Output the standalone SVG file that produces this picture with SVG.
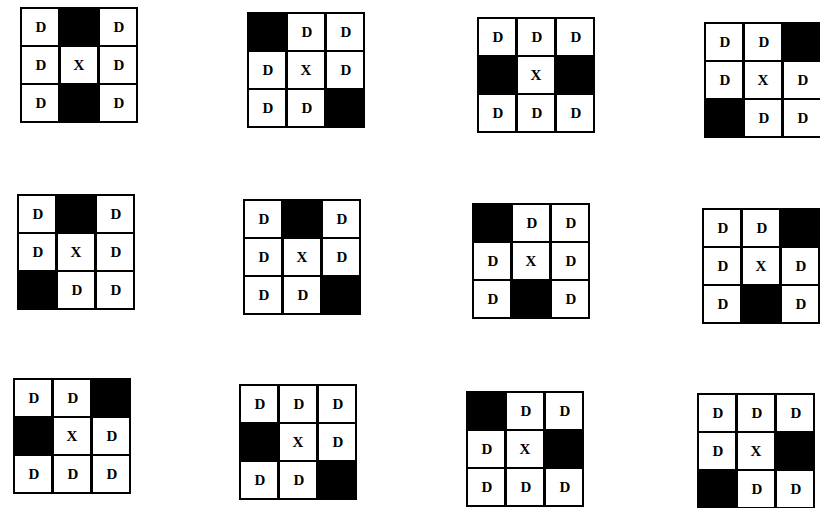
<svg xmlns="http://www.w3.org/2000/svg" width="820" height="508" viewBox="0 0 820 508">
<defs>
<style>
.bg{fill:#000}
.c{fill:#fff}
.t{font-family:"Liberation Serif","DejaVu Serif",serif;font-weight:bold;font-size:15px;text-anchor:middle;fill:#000}
</style>
<rect id="c00" class="c" x="2" y="2" width="36" height="36"/>
<rect id="c01" class="c" x="41" y="2" width="36" height="36"/>
<rect id="c02" class="c" x="80" y="2" width="36" height="36"/>
<rect id="c10" class="c" x="2" y="40" width="36" height="36"/>
<rect id="c11" class="c" x="41" y="40" width="36" height="36"/>
<rect id="c12" class="c" x="80" y="40" width="36" height="36"/>
<rect id="c20" class="c" x="2" y="78" width="36" height="36"/>
<rect id="c21" class="c" x="41" y="78" width="36" height="36"/>
<rect id="c22" class="c" x="80" y="78" width="36" height="36"/>
</defs>
<rect width="820" height="508" fill="#fff"/>

<g id="grid1" transform="translate(20,7)">
<rect class="bg" width="118" height="116"/>
<use href="#c00"/><use href="#c02"/><use href="#c10"/><use href="#c11"/><use href="#c12"/><use href="#c20"/><use href="#c22"/>
<text class="t" x="21" y="25">D</text><text class="t" x="99" y="25">D</text>
<text class="t" x="21" y="63">D</text><text class="t" x="59" y="63">X</text><text class="t" x="99" y="63">D</text>
<text class="t" x="21" y="101">D</text><text class="t" x="99" y="101">D</text>
</g>

<g id="grid2" transform="translate(247,12)">
<rect class="bg" width="118" height="116"/>
<use href="#c01"/><use href="#c02"/><use href="#c10"/><use href="#c11"/><use href="#c12"/><use href="#c20"/><use href="#c21"/>
<text class="t" x="60" y="25">D</text><text class="t" x="99" y="25">D</text>
<text class="t" x="21" y="63">D</text><text class="t" x="59" y="63">X</text><text class="t" x="99" y="63">D</text>
<text class="t" x="21" y="101">D</text><text class="t" x="60" y="101">D</text>
</g>

<g id="grid3" transform="translate(477,17)">
<rect class="bg" width="118" height="116"/>
<use href="#c00"/><use href="#c01"/><use href="#c02"/><use href="#c11"/><use href="#c20"/><use href="#c21"/><use href="#c22"/>
<text class="t" x="21" y="25">D</text><text class="t" x="60" y="25">D</text><text class="t" x="99" y="25">D</text>
<text class="t" x="59" y="63">X</text>
<text class="t" x="21" y="101">D</text><text class="t" x="60" y="101">D</text><text class="t" x="99" y="101">D</text>
</g>

<g id="grid4" transform="translate(704,22)">
<rect class="bg" width="118" height="116"/>
<use href="#c00"/><use href="#c01"/><use href="#c10"/><use href="#c11"/><use href="#c12"/><use href="#c21"/><use href="#c22"/>
<text class="t" x="21" y="25">D</text><text class="t" x="60" y="25">D</text>
<text class="t" x="21" y="63">D</text><text class="t" x="59" y="63">X</text><text class="t" x="99" y="63">D</text>
<text class="t" x="60" y="101">D</text><text class="t" x="99" y="101">D</text>
</g>

<g id="grid5" transform="translate(17,194)">
<rect class="bg" width="118" height="116"/>
<use href="#c00"/><use href="#c02"/><use href="#c10"/><use href="#c11"/><use href="#c12"/><use href="#c21"/><use href="#c22"/>
<text class="t" x="21" y="25">D</text><text class="t" x="99" y="25">D</text>
<text class="t" x="21" y="63">D</text><text class="t" x="59" y="63">X</text><text class="t" x="99" y="63">D</text>
<text class="t" x="60" y="101">D</text><text class="t" x="99" y="101">D</text>
</g>

<g id="grid6" transform="translate(243,199)">
<rect class="bg" width="118" height="116"/>
<use href="#c00"/><use href="#c02"/><use href="#c10"/><use href="#c11"/><use href="#c12"/><use href="#c20"/><use href="#c21"/>
<text class="t" x="21" y="25">D</text><text class="t" x="99" y="25">D</text>
<text class="t" x="21" y="63">D</text><text class="t" x="59" y="63">X</text><text class="t" x="99" y="63">D</text>
<text class="t" x="21" y="101">D</text><text class="t" x="60" y="101">D</text>
</g>

<g id="grid7" transform="translate(472,203)">
<rect class="bg" width="118" height="116"/>
<use href="#c01"/><use href="#c02"/><use href="#c10"/><use href="#c11"/><use href="#c12"/><use href="#c20"/><use href="#c22"/>
<text class="t" x="60" y="25">D</text><text class="t" x="99" y="25">D</text>
<text class="t" x="21" y="63">D</text><text class="t" x="59" y="63">X</text><text class="t" x="99" y="63">D</text>
<text class="t" x="21" y="101">D</text><text class="t" x="99" y="101">D</text>
</g>

<g id="grid8" transform="translate(702,208)">
<rect class="bg" width="118" height="116"/>
<use href="#c00"/><use href="#c01"/><use href="#c10"/><use href="#c11"/><use href="#c12"/><use href="#c20"/><use href="#c22"/>
<text class="t" x="21" y="25">D</text><text class="t" x="60" y="25">D</text>
<text class="t" x="21" y="63">D</text><text class="t" x="59" y="63">X</text><text class="t" x="99" y="63">D</text>
<text class="t" x="21" y="101">D</text><text class="t" x="99" y="101">D</text>
</g>

<g id="grid9" transform="translate(13,378)">
<rect class="bg" width="118" height="116"/>
<use href="#c00"/><use href="#c01"/><use href="#c11"/><use href="#c12"/><use href="#c20"/><use href="#c21"/><use href="#c22"/>
<text class="t" x="21" y="25">D</text><text class="t" x="60" y="25">D</text>
<text class="t" x="59" y="63">X</text><text class="t" x="99" y="63">D</text>
<text class="t" x="21" y="101">D</text><text class="t" x="60" y="101">D</text><text class="t" x="99" y="101">D</text>
</g>

<g id="grid10" transform="translate(239,384)">
<rect class="bg" width="118" height="116"/>
<use href="#c00"/><use href="#c01"/><use href="#c02"/><use href="#c11"/><use href="#c12"/><use href="#c20"/><use href="#c21"/>
<text class="t" x="21" y="25">D</text><text class="t" x="60" y="25">D</text><text class="t" x="99" y="25">D</text>
<text class="t" x="59" y="63">X</text><text class="t" x="99" y="63">D</text>
<text class="t" x="21" y="101">D</text><text class="t" x="60" y="101">D</text>
</g>

<g id="grid11" transform="translate(466,391)">
<rect class="bg" width="118" height="116"/>
<use href="#c01"/><use href="#c02"/><use href="#c10"/><use href="#c11"/><use href="#c20"/><use href="#c21"/><use href="#c22"/>
<text class="t" x="60" y="25">D</text><text class="t" x="99" y="25">D</text>
<text class="t" x="21" y="63">D</text><text class="t" x="59" y="63">X</text>
<text class="t" x="21" y="101">D</text><text class="t" x="60" y="101">D</text><text class="t" x="99" y="101">D</text>
</g>

<g id="grid12" transform="translate(697,393)">
<rect class="bg" width="118" height="116"/>
<use href="#c00"/><use href="#c01"/><use href="#c02"/><use href="#c10"/><use href="#c11"/><use href="#c21"/><use href="#c22"/>
<text class="t" x="21" y="25">D</text><text class="t" x="60" y="25">D</text><text class="t" x="99" y="25">D</text>
<text class="t" x="21" y="63">D</text><text class="t" x="59" y="63">X</text>
<text class="t" x="60" y="101">D</text><text class="t" x="99" y="101">D</text>
</g>
</svg>
